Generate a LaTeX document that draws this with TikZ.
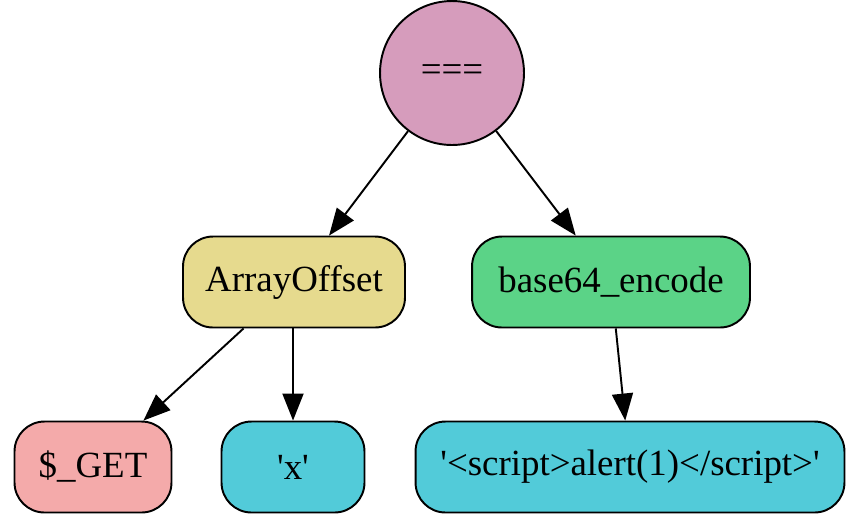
\documentclass[tikz,border=0pt]{standalone}
\usepackage{fontspec}
\setmainfont{Liberation Serif}
\usetikzlibrary{arrows.meta}
\definecolor{rootpink}{RGB}{214,156,188}
\definecolor{offyellow}{RGB}{230,218,142}
\definecolor{funcgreen}{RGB}{91,211,135}
\definecolor{varsalmon}{RGB}{244,170,170}
\definecolor{strcyan}{RGB}{82,203,217}
\begin{document}
\begin{tikzpicture}[x=0.02cm,y=-0.02cm,
  box/.style={draw,line width=1.1pt,rounded corners=0.6cm,minimum height=1.82cm,inner sep=0pt,font=\fontsize{21}{25}\selectfont},
  edge/.style={-{Triangle[length=0.54cm,width=0.42cm]},line width=1.1pt}]
\useasboundingbox(0,0)rectangle(851,515);
% tree nodes
\node[draw,circle,line width=1.1pt,fill=rootpink,minimum size=2.88cm,inner sep=0pt,font=\fontsize{21}{25}\selectfont](root)at(452,73){===};
\node[box,fill=offyellow,minimum width=4.44cm](arr)at(294,282){ArrayOffset};
\node[box,fill=funcgreen,minimum width=5.56cm](enc)at(611,282){base64\_encode};
\node[box,fill=varsalmon,minimum width=3.14cm](get)at(93,467){\$\_GET};
\node[box,fill=strcyan,minimum width=2.86cm](key)at(293,467){\textquotesingle x\textquotesingle};
\node[box,fill=strcyan,minimum width=8.58cm](str)at(630,467){\textquotesingle<script>alert(1)</script>\textquotesingle};
% edges
\draw[edge](root)--(arr);
\draw[edge](root)--(enc);
\draw[edge](arr)--(get);
\draw[edge](key|-arr.south)--(key);
\draw[edge](enc)--(str);
\end{tikzpicture}
\end{document}
